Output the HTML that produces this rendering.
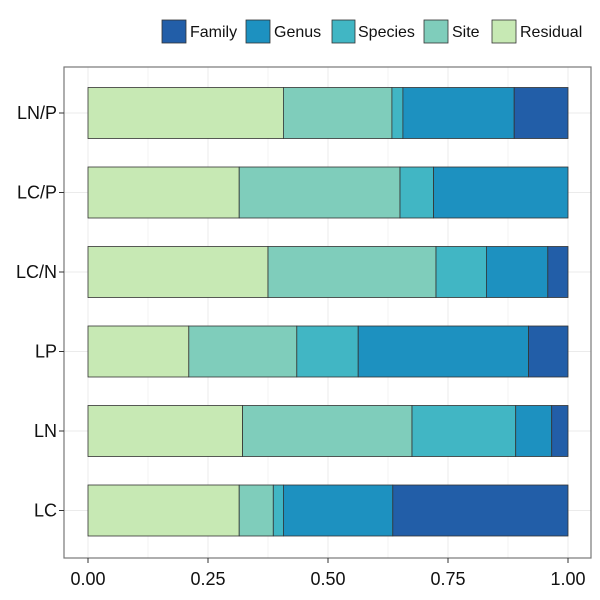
<!DOCTYPE html>
<html><head><meta charset="utf-8"><style>body{margin:0;background:#fff}svg{display:block}</style></head>
<body>
<svg width="600" height="600" xmlns="http://www.w3.org/2000/svg" font-family="Liberation Sans, Arial, sans-serif">
<rect width="600" height="600" fill="#fff"/>
<g stroke="#ebebeb" stroke-width="1">
<line x1="148" y1="67" x2="148" y2="558" stroke-width="0.6"/><line x1="268" y1="67" x2="268" y2="558" stroke-width="0.6"/><line x1="388" y1="67" x2="388" y2="558" stroke-width="0.6"/><line x1="508" y1="67" x2="508" y2="558" stroke-width="0.6"/>
<line x1="88" y1="67" x2="88" y2="558"/><line x1="208" y1="67" x2="208" y2="558"/><line x1="328" y1="67" x2="328" y2="558"/><line x1="448" y1="67" x2="448" y2="558"/><line x1="568" y1="67" x2="568" y2="558"/>
<line x1="64" y1="113" x2="591" y2="113"/><line x1="64" y1="192.5" x2="591" y2="192.5"/><line x1="64" y1="272" x2="591" y2="272"/><line x1="64" y1="351.5" x2="591" y2="351.5"/><line x1="64" y1="431" x2="591" y2="431"/><line x1="64" y1="510.5" x2="591" y2="510.5"/>
</g>
<g stroke="#333" stroke-width="0.8">
<rect x="88" y="87.5" width="195.4" height="51" fill="#c7e9b4"/>
<rect x="283.4" y="87.5" width="108.5" height="51" fill="#7fcdbb"/>
<rect x="391.9" y="87.5" width="11" height="51" fill="#41b6c4"/>
<rect x="402.9" y="87.5" width="111.3" height="51" fill="#1d91c0"/>
<rect x="514.2" y="87.5" width="53.8" height="51" fill="#225ea8"/>

<rect x="88" y="167" width="151.2" height="51" fill="#c7e9b4"/>
<rect x="239.2" y="167" width="160.8" height="51" fill="#7fcdbb"/>
<rect x="400" y="167" width="33.6" height="51" fill="#41b6c4"/>
<rect x="433.6" y="167" width="134.4" height="51" fill="#1d91c0"/>

<rect x="88" y="246.5" width="180" height="51" fill="#c7e9b4"/>
<rect x="268" y="246.5" width="168" height="51" fill="#7fcdbb"/>
<rect x="436" y="246.5" width="50.4" height="51" fill="#41b6c4"/>
<rect x="486.4" y="246.5" width="61.4" height="51" fill="#1d91c0"/>
<rect x="547.8" y="246.5" width="20.2" height="51" fill="#225ea8"/>

<rect x="88" y="326" width="100.8" height="51" fill="#c7e9b4"/>
<rect x="188.8" y="326" width="108" height="51" fill="#7fcdbb"/>
<rect x="296.8" y="326" width="61.4" height="51" fill="#41b6c4"/>
<rect x="358.2" y="326" width="170.4" height="51" fill="#1d91c0"/>
<rect x="528.6" y="326" width="39.4" height="51" fill="#225ea8"/>

<rect x="88" y="405.5" width="154.6" height="51" fill="#c7e9b4"/>
<rect x="242.6" y="405.5" width="169.4" height="51" fill="#7fcdbb"/>
<rect x="412" y="405.5" width="103.7" height="51" fill="#41b6c4"/>
<rect x="515.7" y="405.5" width="36" height="51" fill="#1d91c0"/>
<rect x="551.7" y="405.5" width="16.3" height="51" fill="#225ea8"/>

<rect x="88" y="485" width="151.2" height="51" fill="#c7e9b4"/>
<rect x="239.2" y="485" width="34.1" height="51" fill="#7fcdbb"/>
<rect x="273.3" y="485" width="10.1" height="51" fill="#41b6c4"/>
<rect x="283.4" y="485" width="109.4" height="51" fill="#1d91c0"/>
<rect x="392.8" y="485" width="175.2" height="51" fill="#225ea8"/>
</g>
<rect x="64" y="67" width="527" height="491" fill="none" stroke="#777" stroke-width="1.2"/>
<g stroke="#333" stroke-width="1">
<line x1="59" y1="113" x2="64" y2="113"/><line x1="59" y1="192.5" x2="64" y2="192.5"/><line x1="59" y1="272" x2="64" y2="272"/><line x1="59" y1="351.5" x2="64" y2="351.5"/><line x1="59" y1="431" x2="64" y2="431"/><line x1="59" y1="510.5" x2="64" y2="510.5"/>
<line x1="88" y1="558" x2="88" y2="563"/><line x1="208" y1="558" x2="208" y2="563"/><line x1="328" y1="558" x2="328" y2="563"/><line x1="448" y1="558" x2="448" y2="563"/><line x1="568" y1="558" x2="568" y2="563"/>
</g>
<g font-size="18" fill="#111" text-anchor="end">
<text x="57" y="119">LN/P</text><text x="57" y="198.5">LC/P</text><text x="57" y="278">LC/N</text><text x="57" y="357.5">LP</text><text x="57" y="437">LN</text><text x="57" y="516.5">LC</text>
</g>
<g font-size="18" fill="#111" text-anchor="middle">
<text x="88" y="585">0.00</text><text x="208" y="585">0.25</text><text x="328" y="585">0.50</text><text x="448" y="585">0.75</text><text x="568" y="585">1.00</text>
</g>
<g stroke="#333" stroke-width="0.8">
<rect x="162" y="20" width="24" height="23" fill="#225ea8"/>
<rect x="246" y="20" width="24" height="23" fill="#1d91c0"/>
<rect x="332" y="20" width="23" height="23" fill="#41b6c4"/>
<rect x="424" y="20" width="24" height="23" fill="#7fcdbb"/>
<rect x="492" y="20" width="24" height="23" fill="#c7e9b4"/>
</g>
<g font-size="16" fill="#111">
<text x="190" y="37">Family</text><text x="274" y="37">Genus</text><text x="358" y="37">Species</text><text x="452" y="37">Site</text><text x="520" y="37">Residual</text>
</g>
</svg>
</body></html>
